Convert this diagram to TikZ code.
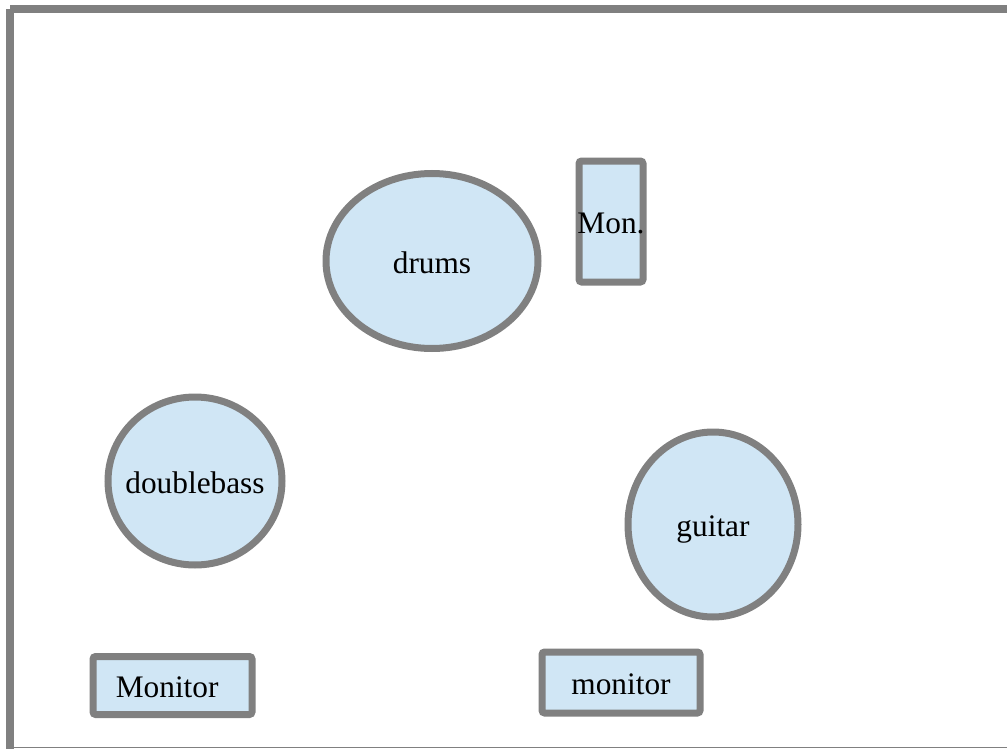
\documentclass[tikz,border=0pt]{standalone}
\usepackage{fontspec}
\setmainfont{Liberation Serif}
\usetikzlibrary{shapes.geometric}
\definecolor{edgegray}{HTML}{808080}
\definecolor{fillblue}{HTML}{D0E6F5}
\newcommand{\lbl}[1]{\raisebox{-9.25pt}[0pt][0pt]{\makebox[0pt]{#1}}}
\tikzset{
  frameline/.style={draw=edgegray, line width=6pt},
  item/.style={draw=edgegray, fill=fillblue, line width=5.25pt, inner sep=0pt, font=\fontsize{23.5pt}{27pt}\selectfont, text=black},
  oval/.style={item, ellipse},
  box/.style={item, rectangle, rounded corners=2pt},
}
\begin{document}
\begin{tikzpicture}[x=0.75pt,y=-0.75pt]
\useasboundingbox (0,0) rectangle (1007,749);
\coordinate (c) at (10,9);
\coordinate (tr) at (1015,9);
\coordinate (bl) at (10,760);
\coordinate (bbl) at (14,747.5);
\coordinate (bbr) at (1010,747.5);
\draw[frameline] (c) -- (tr);
\draw[frameline] (c) -- (bl);
\draw[draw=edgegray, line width=1.2pt] (bbl) -- (bbr);
\node[oval, minimum width=159pt, minimum height=131.25pt] (drums) at (432,261) {\lbl{drums}};
\node[box, minimum width=48pt, minimum height=90.75pt] (mon) at (611,221.5) {\lbl{Mon.}};
\node[oval, minimum width=130.5pt, minimum height=126pt] (bass) at (195,481) {\lbl{doublebass}};
\node[oval, minimum width=127.5pt, minimum height=138.75pt] (guitar) at (713,524.5) {\lbl{guitar}};
\node[box, minimum width=119.25pt, minimum height=43.5pt] (monA) at (172.5,685.5) {\lbl{\hspace*{-8pt}Monitor}};
\node[box, minimum width=118.5pt, minimum height=45.75pt] (monB) at (621,682.5) {\lbl{monitor}};
\end{tikzpicture}
\end{document}
